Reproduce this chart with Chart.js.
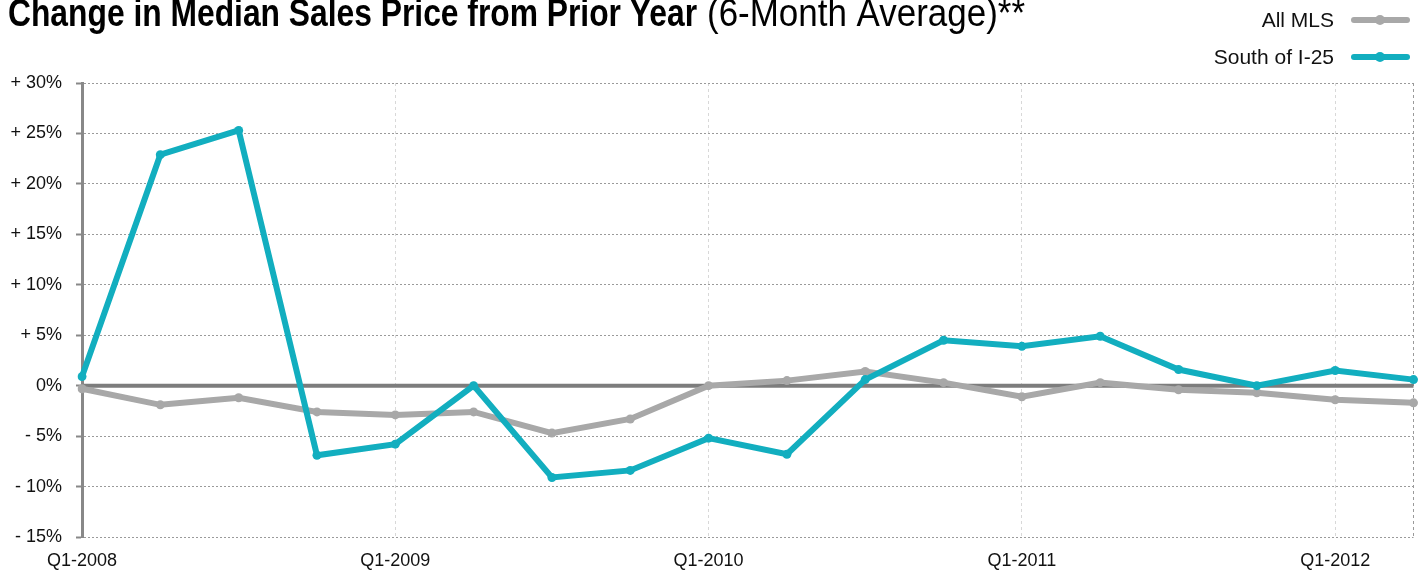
<!DOCTYPE html>
<html><head><meta charset="utf-8">
<script src="https://cdn.jsdelivr.net/npm/chart.js@4.4.1/dist/chart.umd.min.js"></script>
<style>html,body{margin:0;padding:0;background:#fff;}#wrap{width:1418px;height:570px;position:relative;}</style>
</head><body><div id="wrap"><canvas id="c" width="1418" height="570"></canvas></div>
<script>
const quarters = ["Q1-2008","Q2-2008","Q3-2008","Q4-2008","Q1-2009","Q2-2009","Q3-2009","Q4-2009","Q1-2010","Q2-2010","Q3-2010","Q4-2010","Q1-2011","Q2-2011","Q3-2011","Q4-2011","Q1-2012","Q2-2012"];
const allMLS = [-0.3,-1.9,-1.2,-2.6,-2.9,-2.6,-4.7,-3.3,0.0,0.5,1.4,0.3,-1.1,0.3,-0.4,-0.7,-1.4,-1.7];
const southI25 = [0.9,22.9,25.3,-6.9,-5.8,0.0,-9.1,-8.4,-5.2,-6.8,0.6,4.5,3.9,4.9,1.6,0.0,1.5,0.6];
const yTicks = [30,25,20,15,10,5,0,-5,-10,-15];
const titleBold = "Change in Median Sales Price from Prior Year";
const titleNormal = "(6-Month Average)**";

const GRAY = '#a8a8a8', TEAL = '#12aebf';

const decor = {
  id:'decor',
  beforeDatasetsDraw(chart){
    const {ctx, chartArea:a, scales:{y}} = chart;
    const py = y.getPixelForValue(0);
    ctx.save();
    ctx.strokeStyle = '#7d7d7d'; ctx.lineWidth = 4;
    ctx.beginPath(); ctx.moveTo(a.left, py); ctx.lineTo(a.right, py); ctx.stroke();
    ctx.restore();
  },
  afterDraw(chart){
    const ctx = chart.ctx;
    ctx.save();
    ctx.fillStyle = '#000';
    ctx.textBaseline = 'alphabetic';
    ctx.font = "bold 38px 'Liberation Sans Narrow', 'Liberation Sans', sans-serif";
    let w = ctx.measureText(titleBold).width;
    ctx.save(); ctx.translate(8, 26); ctx.scale(689 / w, 1); ctx.fillText(titleBold, 0, 0); ctx.restore();
    ctx.font = "38px 'Liberation Sans Narrow', 'Liberation Sans', sans-serif";
    w = ctx.measureText(titleNormal).width;
    ctx.save(); ctx.translate(707, 26); ctx.scale(318 / w, 1); ctx.fillText(titleNormal, 0, 0); ctx.restore();
    ctx.font = "21px 'Liberation Sans', Arial, sans-serif";
    ctx.textAlign = 'right'; ctx.textBaseline = 'middle';
    chart.data.datasets.forEach((ds, i) => {
      const yy = 20 + i * 37;
      ctx.fillStyle = '#111';
      ctx.fillText(ds.label, 1334, yy + 1);
      ctx.strokeStyle = ds.borderColor; ctx.lineWidth = 6; ctx.lineCap = 'round';
      ctx.beginPath(); ctx.moveTo(1354, yy); ctx.lineTo(1407, yy); ctx.stroke();
      ctx.fillStyle = ds.borderColor;
      ctx.beginPath(); ctx.arc(1380, yy, 5, 0, Math.PI * 2); ctx.fill();
    });
    ctx.restore();
  }
};

new Chart(document.getElementById('c'), {
  type: 'line',
  data: {
    labels: quarters,
    datasets: [
      {label:'All MLS', data: allMLS, borderColor: GRAY, backgroundColor: GRAY, borderWidth: 6, pointRadius: 4.5, pointBackgroundColor: GRAY, pointBorderWidth: 0, tension: 0, order: 2},
      {label:'South of I-25', data: southI25, borderColor: TEAL, backgroundColor: TEAL, borderWidth: 6, pointRadius: 4.5, pointBackgroundColor: TEAL, pointBorderWidth: 0, tension: 0, order: 1}
    ]
  },
  options: {
    responsive: false, animation: false,
    layout: {padding: {top: 83, right: 4, left: 0, bottom: 0}},
    plugins: {legend: {display: false}, tooltip: {enabled: false}, title: {display: false}},
    scales: {
      x: {
        offset: false,
        afterFit(s){ s.height = 33; s.paddingRight = 0; s.paddingLeft = 0; },
        border: {display: false, dash: [3,3]},
        grid: {
          drawTicks: false,
          color: (c) => {
            const i = c.index;
            if (i === quarters.length - 1) return '#9a9a9a';
            return quarters[i] && quarters[i].startsWith('Q1') && i > 0 ? '#d8d8d8' : 'rgba(0,0,0,0)';
          },
          lineWidth: 1
        },
        ticks: {
          autoSkip: false, maxRotation: 0, padding: 13,
          color: '#111', font: {family: "'Liberation Sans', Arial, sans-serif", size: 18},
          callback: (v, i) => quarters[i].startsWith('Q1') ? quarters[i] : ''
        }
      },
      y: {
        min: -15, max: 30,
        afterFit(s){ s.width = 82; s.paddingTop = 0; s.paddingBottom = 0; },
        afterBuildTicks(s){ s.ticks = yTicks.map(v => ({value: v})); },
        border: {display: true, color: '#888', width: 3, dash: [2,2]},
        grid: {color: '#9a9a9a', lineWidth: 1, tickLength: 6, tickColor: '#888', tickWidth: 2, tickBorderDash: []},
        ticks: {
          padding: 14, color: '#111', font: {family: "'Liberation Sans', Arial, sans-serif", size: 18},
          callback: (v) => v > 0 ? '+ ' + v + '%' : (v < 0 ? '- ' + Math.abs(v) + '%' : '0%')
        }
      }
    }
  },
  plugins: [decor]
});
</script></body></html>
